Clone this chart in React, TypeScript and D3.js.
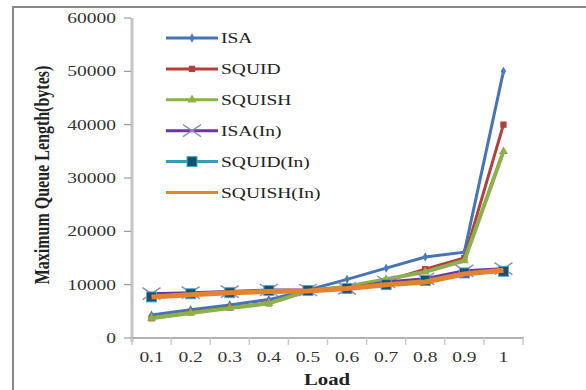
import React from 'react'
import * as d3 from 'd3'

const loads = ['0.1', '0.2', '0.3', '0.4', '0.5', '0.6', '0.7', '0.8', '0.9', '1']
const yTicks = [0, 10000, 20000, 30000, 40000, 50000, 60000]

const isa = [4300, 5300, 6200, 7200, 9000, 11000, 13100, 15200, 16100, 50000]
const squid = [3700, 4800, 5700, 6500, 8800, 9600, 10700, 12900, 15000, 40000]
const squish = [3700, 4700, 5600, 6500, 8800, 9600, 11000, 12400, 14500, 35000]
const isaIn = [8300, 8500, 8700, 9000, 9000, 9300, 10500, 11100, 12600, 13000]
const squidIn = [7700, 8300, 8500, 8900, 8900, 9300, 10000, 10800, 12200, 12500]
const squishIn = [7700, 8100, 8500, 8700, 8800, 9300, 10000, 10500, 12000, 12700]

const seriesNames = ['ISA', 'SQUID', 'SQUISH', 'ISA(In)', 'SQUID(In)', 'SQUISH(In)']
const seriesValues = [isa, squid, squish, isaIn, squidIn, squishIn]

const styles = [
  {color: '#4674b4', width: 3, marker: 'diamond', mfill: '#4a7ebb'},
  {color: '#b2403c', width: 3, marker: 'square', mfill: '#b3403d'},
  {color: '#8cb04b', width: 4, marker: 'triangle', mfill: '#8db04c'},
  {color: '#7036a0', width: 3, marker: 'x', mfill: '#9b87bf'},
  {color: '#3c9ab8', width: 3, marker: 'box', mfill: '#1b4f72'},
  {color: '#e5822f', width: 5, marker: 'none', mfill: '#e5822f'},
]

const serif = '"Liberation Serif", "Times New Roman", serif'

const Marker = ({type, fill, x, y}) => {
  if (type === 'x') {
    return (
      <path
        d="M-9,-6L9,6M-9,6L9,-6"
        transform={`translate(${x},${y})`}
        stroke={fill}
        strokeWidth={1.5}
        fill="none"
      />
    )
  }
  if (type === 'box') {
    return (
      <rect x={x - 5} y={y - 5} width={10} height={10} fill={fill} stroke="#4bacc6" strokeWidth={1} />
    )
  }
  if (type === 'none') return null
  const sym =
    type === 'square' ? d3.symbolSquare : type === 'triangle' ? d3.symbolTriangle : d3.symbolDiamond
  const size = type === 'square' ? 40 : type === 'triangle' ? 35 : 25
  return <path d={d3.symbol().type(sym).size(size)()} transform={`translate(${x},${y})`} fill={fill} />
}

const App = () => {
  const x = d3.scalePoint().domain(loads).range([132, 523]).padding(0.5)
  const band = d3.scaleBand().domain(loads).range([132, 523])
  const y = d3.scaleLinear().domain([0, 60000]).range([338, 18])
  const line = d3
    .line()
    .x((d, i) => x(loads[i]))
    .y(d => y(d))

  const legendX = 166
  const legendY = 38
  const legendStep = 30.9

  return (
    <svg width={586} height={390} style={{position: 'absolute', left: 0, top: 0, background: '#fff'}}>
      {/* frame */}
      <line x1={13} x2={13} y1={6} y2={390} stroke="#888" strokeWidth={2} />
      <line x1={12} x2={586} y1={7} y2={7} stroke="#888" strokeWidth={2} />

      {/* y axis */}
      <line x1={132} x2={132} y1={18} y2={342} stroke="#c4c4c4" strokeWidth={3} />
      {yTicks.map(t => (
        <g key={t}>
          <line x1={124} x2={131} y1={y(t)} y2={y(t)} stroke="#888" />
          <text
            transform={`translate(116,${y(t) + 5}) scale(1.3,1)`}
            textAnchor="end"
            fontFamily={serif}
            fontSize={15}
            fill="#333"
          >
            {t}
          </text>
        </g>
      ))}

      {/* x axis */}
      <line x1={132} x2={524} y1={338} y2={338} stroke="#999" strokeWidth={1.5} />
      {loads.concat(['end']).map((l, i) => {
        const xx = i < loads.length ? band(l) : 523
        return <line key={l} x1={xx} x2={xx} y1={338} y2={345} stroke="#ccc" strokeWidth={1.5} />
      })}
      {loads.map(l => (
        <text
          key={l}
          transform={`translate(${x(l)},362) scale(1.3,1)`}
          textAnchor="middle"
          fontFamily={serif}
          fontSize={15}
          fill="#333"
        >
          {l}
        </text>
      ))}
      <text
        transform="translate(327,385) scale(1.3,1)"
        textAnchor="middle"
        fontFamily={serif}
        fontSize={16}
        fontWeight="bold"
        fill="#222"
      >
        Load
      </text>
      <text
        transform="translate(49,175) scale(1.25,1) rotate(-90)"
        textAnchor="middle"
        fontFamily={serif}
        fontSize={16}
        fontWeight="bold"
        fill="#222"
      >
        Maximum Queue Length(bytes)
      </text>

      {/* series */}
      {seriesValues.map((vals, si) => (
        <g key={seriesNames[si]}>
          <path d={line(vals)} fill="none" stroke={styles[si].color} strokeWidth={styles[si].width} />
          {vals.map((v, i) => (
            <Marker key={i} type={styles[si].marker} fill={styles[si].mfill} x={x(loads[i])} y={y(v)} />
          ))}
        </g>
      ))}

      {/* legend */}
      {seriesNames.map((name, i) => {
        const ly = legendY + i * legendStep
        return (
          <g key={name}>
            <line x1={legendX} x2={218} y1={ly} y2={ly} stroke={styles[i].color} strokeWidth={3} />
            <Marker type={styles[i].marker} fill={styles[i].mfill} x={192} y={ly} />
            <text
              transform={`translate(221,${ly + 5}) scale(1.3,1)`}
              fontFamily={serif}
              fontSize={15}
              fill="#222"
            >
              {name}
            </text>
          </g>
        )
      })}
    </svg>
  )
}

export default App
